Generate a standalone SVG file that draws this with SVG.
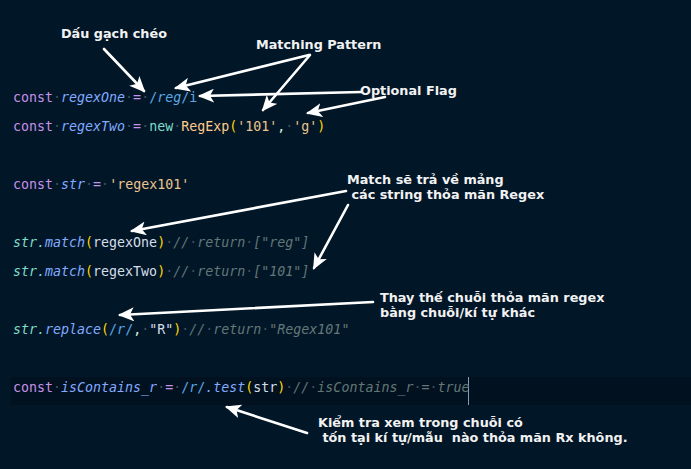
<svg xmlns="http://www.w3.org/2000/svg" width="691" height="469" viewBox="0 0 691 469">
<style>
.code{font-family:"DejaVu Sans Mono","Liberation Mono",monospace;font-size:13.3px;fill:#d6deeb}
.kw{fill:#c792ea}
.v{fill:#82aaff;font-style:italic}
.ws{fill:#3e5060}
.rx{fill:#5ca7e4}
.rxi{fill:#5ca7e4;font-style:italic}
.nw{fill:#7fdbca}
.cls{fill:#ffcb8b}
.br{fill:#ffd700}
.s{fill:#ecc48d}
.pn{fill:#d9f5dd}
.obj{fill:#7fdbca;font-style:italic}
.fn{fill:#82aaff;font-style:italic}
.cm{fill:#637777;font-style:italic}
.ann{font-family:"DejaVu Sans","Noto Sans",sans-serif;font-weight:bold;font-size:12.8px;fill:#f2f2f2}
.arr{stroke:#ffffff;stroke-width:2.6;fill:none;stroke-linecap:round}
</style>
<defs>
<marker id="ah" markerUnits="userSpaceOnUse" markerWidth="16" markerHeight="14" viewBox="0 0 16 14" refX="14" refY="7" orient="auto">
<path d="M0,0 L16,7 L0,14 L4,7 Z" fill="#ffffff"/>
</marker>
</defs>
<rect width="691" height="469" fill="#011627"/>
<rect x="11" y="377" width="680" height="28" fill="#01111f"/>
<line x1="468.5" y1="377" x2="468.5" y2="405" stroke="#7f9fbe" stroke-width="1"/>

<g id="code" class="code" xml:space="preserve">
<text x="13" y="102"><tspan class="kw">const</tspan><tspan class="ws">·</tspan><tspan class="v">regexOne</tspan><tspan class="ws">·</tspan><tspan class="kw">=</tspan><tspan class="ws">·</tspan><tspan class="rx">/</tspan><tspan class="rxi">reg</tspan><tspan class="rx">/i</tspan></text>
<text x="13" y="131"><tspan class="kw">const</tspan><tspan class="ws">·</tspan><tspan class="v">regexTwo</tspan><tspan class="ws">·</tspan><tspan class="kw">=</tspan><tspan class="ws">·</tspan><tspan class="nw">new</tspan><tspan class="ws">·</tspan><tspan class="cls">RegExp</tspan><tspan class="br">(</tspan><tspan class="s">'101'</tspan><tspan class="pn">,</tspan><tspan class="ws">·</tspan><tspan class="s">'g'</tspan><tspan class="br">)</tspan></text>
<text x="13" y="189"><tspan class="kw">const</tspan><tspan class="ws">·</tspan><tspan class="v">str</tspan><tspan class="ws">·</tspan><tspan class="kw">=</tspan><tspan class="ws">·</tspan><tspan class="s">'regex101'</tspan></text>
<text x="13" y="247"><tspan class="obj">str.</tspan><tspan class="fn">match</tspan><tspan class="br">(</tspan><tspan>regexOne</tspan><tspan class="br">)</tspan><tspan class="ws">·</tspan><tspan class="cm">//</tspan><tspan class="ws">·</tspan><tspan class="cm">return</tspan><tspan class="ws">·</tspan><tspan class="cm">["reg"]</tspan></text>
<text x="13" y="276"><tspan class="obj">str.</tspan><tspan class="fn">match</tspan><tspan class="br">(</tspan><tspan>regexTwo</tspan><tspan class="br">)</tspan><tspan class="ws">·</tspan><tspan class="cm">//</tspan><tspan class="ws">·</tspan><tspan class="cm">return</tspan><tspan class="ws">·</tspan><tspan class="cm">["101"]</tspan></text>
<text x="13" y="334"><tspan class="obj">str.</tspan><tspan class="fn">replace</tspan><tspan class="br">(</tspan><tspan class="rx">/</tspan><tspan class="rxi">r</tspan><tspan class="rx">/</tspan><tspan class="pn">,</tspan><tspan class="ws">·</tspan><tspan>"R"</tspan><tspan class="br">)</tspan><tspan class="ws">·</tspan><tspan class="cm">//</tspan><tspan class="ws">·</tspan><tspan class="cm">return</tspan><tspan class="ws">·</tspan><tspan class="cm">"Regex101"</tspan></text>
<text x="13" y="392"><tspan class="kw">const</tspan><tspan class="ws">·</tspan><tspan class="v">isContains_r</tspan><tspan class="ws">·</tspan><tspan class="kw">=</tspan><tspan class="ws">·</tspan><tspan class="rx">/</tspan><tspan class="rxi">r</tspan><tspan class="rx">/</tspan><tspan class="fn">.test</tspan><tspan class="br">(</tspan><tspan>str</tspan><tspan class="br">)</tspan><tspan class="ws">·</tspan><tspan class="cm">//</tspan><tspan class="ws">·</tspan><tspan class="cm">isContains_r</tspan><tspan class="ws">·</tspan><tspan class="cm">=</tspan><tspan class="ws">·</tspan><tspan class="cm">true</tspan></text>
</g>

<g id="note-slash"><text class="ann" x="61" y="38">Dấu gạch chéo</text></g>
<g id="note-pattern"><text class="ann" x="256" y="49">Matching Pattern</text></g>
<g id="note-flag"><text class="ann" x="360" y="95">Optional Flag</text></g>
<g id="note-match"><text class="ann" x="347" y="184" xml:space="preserve">Match sẽ trả về mảng</text><text class="ann" x="347" y="199" xml:space="preserve"> các string thỏa mãn Regex</text></g>
<g id="note-replace"><text class="ann" x="380" y="302">Thay thế chuỗi thỏa mãn regex</text><text class="ann" x="380" y="317">bằng chuỗi/kí tự khác</text></g>
<g id="note-test"><text class="ann" x="318" y="427" xml:space="preserve">Kiểm tra xem trong chuỗi có</text><text class="ann" x="318" y="442" xml:space="preserve"> tốn tại kí tự/mẫu  nào thỏa mãn Rx không.</text></g>

<g id="connectors" class="arr" marker-end="url(#ah)">
<line x1="104" y1="49" x2="144" y2="91" marker-end="url(#ah)"/>
<line x1="309" y1="55" x2="176" y2="88" marker-end="url(#ah)"/>
<line x1="310" y1="55" x2="263" y2="110" marker-end="url(#ah)"/>
<line x1="361" y1="92" x2="200" y2="96" marker-end="url(#ah)"/>
<line x1="385" y1="97" x2="308" y2="113" marker-end="url(#ah)"/>
<line x1="346" y1="191" x2="132" y2="231" marker-end="url(#ah)"/>
<line x1="348" y1="205" x2="314" y2="268" marker-end="url(#ah)"/>
<line x1="373" y1="302" x2="120" y2="315" marker-end="url(#ah)"/>
<line x1="307" y1="433" x2="227" y2="407" marker-end="url(#ah)"/>
</g>
</svg>
